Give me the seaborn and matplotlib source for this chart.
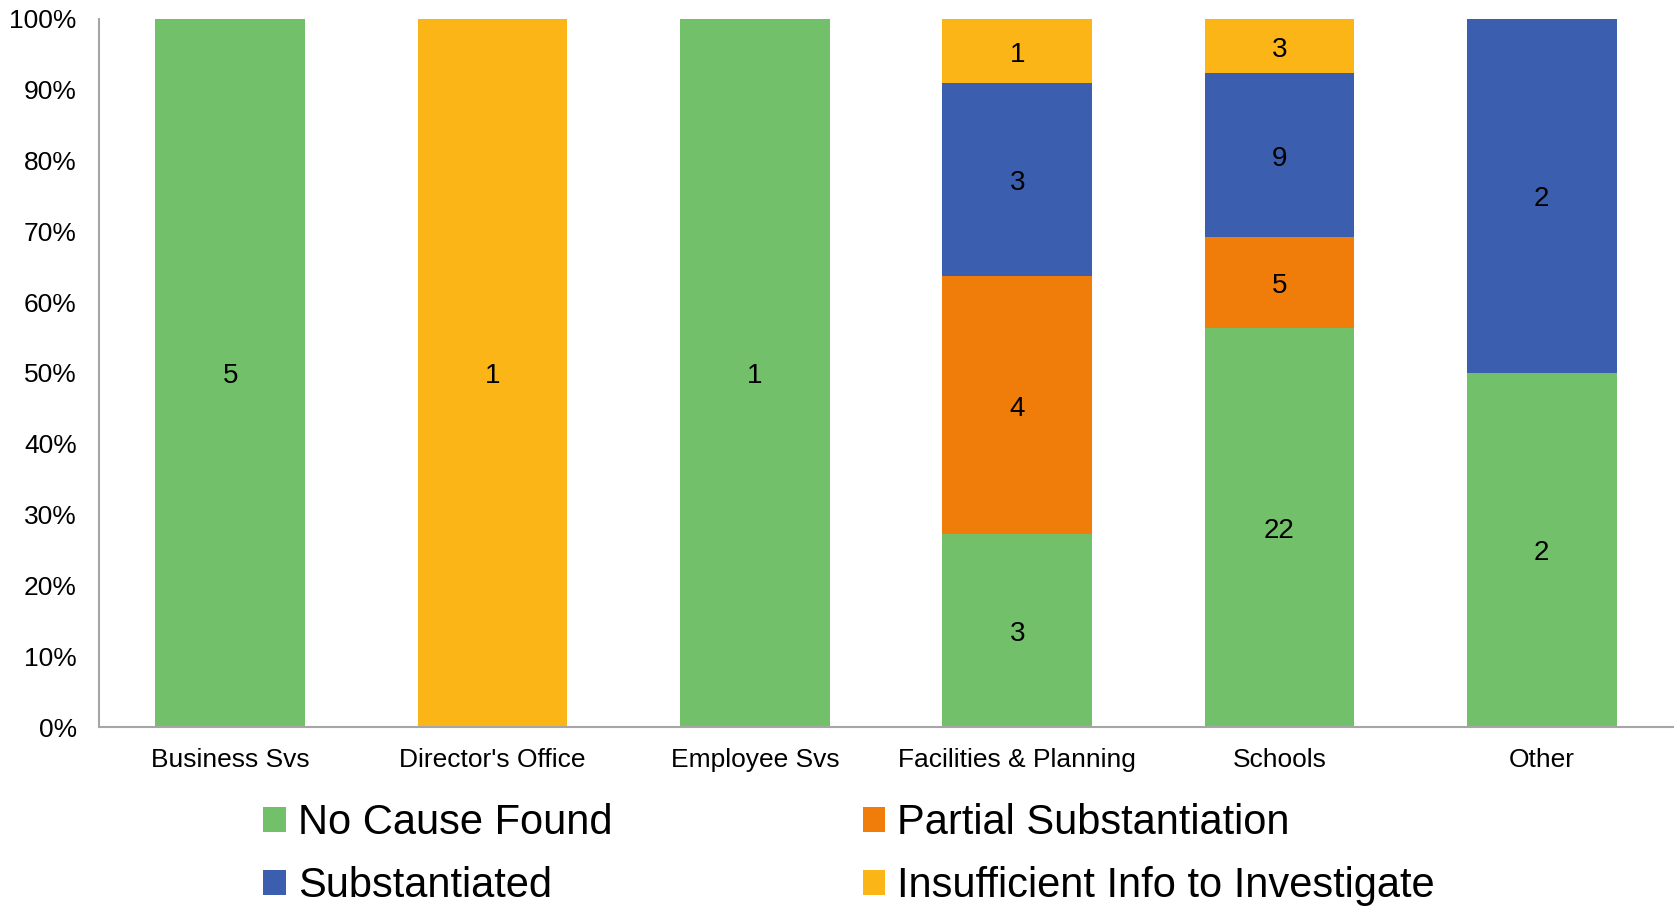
import numpy as np
import pandas as pd
import matplotlib
matplotlib.use("Agg")
import matplotlib.pyplot as plt
import seaborn as sns
from matplotlib.patches import Patch

departments = ["Business Svs", "Director's Office", "Employee Svs",
               "Facilities & Planning", "Schools", "Other"]
no_cause_found = [5, 0, 1, 3, 22, 2]
partial_substantiation = [0, 0, 0, 4, 5, 0]
substantiated = [0, 0, 0, 3, 9, 2]
insufficient_info = [0, 1, 0, 1, 3, 0]

series_names = ["No Cause Found", "Partial Substantiation",
                "Substantiated", "Insufficient Info to Investigate"]
series_counts = [no_cause_found, partial_substantiation,
                 substantiated, insufficient_info]
series_colors = ["#73C06B", "#F07C0A", "#3B5FAE", "#FBB516"]
y_ticks = np.arange(0, 101, 10)
y_tick_labels = [f"{v}%" for v in y_ticks]

sns.set_theme(style="white")
plt.rcParams["font.family"] = ["Liberation Sans", "DejaVu Sans"]
plt.rcParams["text.color"] = "black"
plt.rcParams["xtick.color"] = "black"
plt.rcParams["ytick.color"] = "black"

counts = np.array(series_counts, dtype=float)
totals = counts.sum(axis=0)
shares = counts / totals * 100

fig = plt.figure(figsize=(16.78, 9.09), dpi=100)
ax = fig.add_axes([0.059, 0.2002, 0.938, 0.779])

bottom = np.zeros(len(departments))
for name, cnt, pct, color in zip(series_names, counts, shares, series_colors):
    df = pd.DataFrame({"dept": departments, "pct": pct})
    sns.barplot(data=df, x="dept", y="pct", order=departments, color=color,
                width=0.57, bottom=bottom, ax=ax, saturation=1,
                edgecolor="none", linewidth=0)
    for i, (c, p) in enumerate(zip(cnt, pct)):
        if c > 0:
            ax.annotate(f"{int(c)}", (i, bottom[i] + p / 2),
                        xytext=(0, -2.5), textcoords="offset points",
                        ha="center", va="center", fontsize=20, color="black")
    bottom = bottom + pct

ax.set_xlim(-0.5, len(departments) - 0.5)
ax.set_ylim(0, 100)
ax.set_yticks(y_ticks)
ax.set_yticklabels(y_tick_labels)
ax.set_xlabel("")
ax.set_ylabel("")
ax.tick_params(axis="y", length=0, pad=16, labelsize=19)
ax.tick_params(axis="x", length=0, pad=15, labelsize=19)
for side in ["top", "right"]:
    ax.spines[side].set_visible(False)
for side in ["left", "bottom"]:
    ax.spines[side].set_color("#A6A6A6")
    ax.spines[side].set_linewidth(1.5)

handles = [Patch(facecolor=c, edgecolor="none") for c in series_colors]
order = [0, 2, 1, 3]
fig.legend([handles[i] for i in order], [series_names[i] for i in order],
           ncol=2, loc="lower left", bbox_to_anchor=(0.157, 0.003),
           frameon=False, fontsize=30, handlelength=0.53, handleheight=0.53,
           handletextpad=0.3, columnspacing=6.0, labelspacing=0.55,
           borderpad=0, borderaxespad=0)

fig.savefig("out.png", dpi=100)
